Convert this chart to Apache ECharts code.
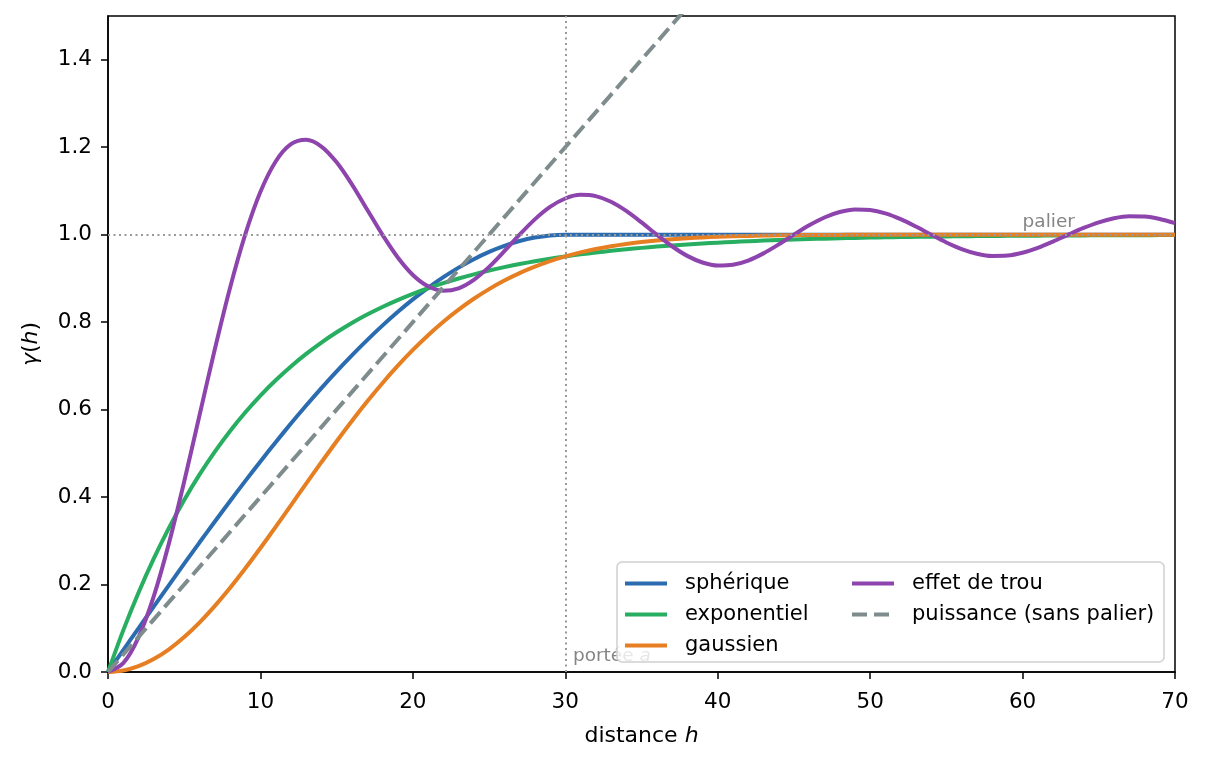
<!DOCTYPE html>
<html>
<head>
<meta charset="utf-8">
<script src="https://cdn.jsdelivr.net/npm/echarts@6/dist/echarts.min.js"></script>
<style>
  html, body { margin: 0; padding: 0; background: #fff; }
  #chart { width: 1206px; height: 764px; }
</style>
</head>
<body>
<div id="chart"></div>
<script>
// distances h (0..70)
const hVals = [0, 1, 2, 3, 4, 5, 6, 7, 8, 9, 10, 11, 12, 13, 14, 15, 16, 17, 18, 19,
  20, 21, 22, 23, 24, 25, 26, 27, 28, 29, 30, 31, 32, 33, 34, 35, 36, 37, 38, 39,
  40, 41, 42, 43, 44, 45, 46, 47, 48, 49, 50, 51, 52, 53, 54, 55, 56, 57, 58, 59,
  60, 61, 62, 63, 64, 65, 66, 67, 68, 69, 70]

const spherique = [0, 0.0500, 0.0999, 0.1495, 0.1988, 0.2477, 0.2960, 0.3436, 0.3905, 0.4365,
  0.4815, 0.5254, 0.5680, 0.6093, 0.6492, 0.6875, 0.7241, 0.7590, 0.7920, 0.8230,
  0.8519, 0.8785, 0.9028, 0.9247, 0.9440, 0.9606, 0.9745, 0.9855, 0.9935, 0.9983,
  1, 1, 1, 1, 1, 1, 1, 1, 1, 1, 1, 1, 1, 1, 1, 1, 1, 1, 1, 1,
  1, 1, 1, 1, 1, 1, 1, 1, 1, 1, 1, 1, 1, 1, 1, 1, 1, 1, 1, 1, 1]

const exponentiel = [0, 0.0952, 0.1813, 0.2592, 0.3297, 0.3935, 0.4512, 0.5034, 0.5507, 0.5934,
  0.6321, 0.6671, 0.6988, 0.7275, 0.7534, 0.7769, 0.7981, 0.8173, 0.8347, 0.8504,
  0.8647, 0.8775, 0.8892, 0.8997, 0.9093, 0.9179, 0.9257, 0.9328, 0.9392, 0.9450,
  0.9502, 0.9550, 0.9592, 0.9631, 0.9666, 0.9698, 0.9727, 0.9753, 0.9776, 0.9798,
  0.9817, 0.9834, 0.9850, 0.9864, 0.9877, 0.9889, 0.9899, 0.9909, 0.9918, 0.9926,
  0.9933, 0.9939, 0.9945, 0.9950, 0.9955, 0.9959, 0.9963, 0.9967, 0.9970, 0.9973,
  0.9975, 0.9978, 0.9980, 0.9982, 0.9983, 0.9985, 0.9986, 0.9988, 0.9989, 0.9990, 0.9991]

const gaussien = [0, 0.0033, 0.0132, 0.0296, 0.0519, 0.0800, 0.1131, 0.1507, 0.1921, 0.2366,
  0.2835, 0.3319, 0.3812, 0.4307, 0.4797, 0.5276, 0.5740, 0.6184, 0.6604, 0.6998,
  0.7364, 0.7701, 0.8008, 0.8285, 0.8534, 0.8755, 0.8950, 0.9120, 0.9267, 0.9394,
  0.9502, 0.9594, 0.9671, 0.9735, 0.9788, 0.9831, 0.9867, 0.9896, 0.9919, 0.9937,
  0.9952, 0.9963, 0.9972, 0.9979, 0.9984, 0.9988, 0.9991, 0.9994, 0.9995, 0.9997,
  0.9998, 0.9998, 0.9999, 0.9999, 0.9999, 1, 1, 1, 1, 1,
  1, 1, 1, 1, 1, 1, 1, 1, 1, 1, 1]

const effetTrou = [0, 0.0202, 0.0793, 0.1730, 0.2947, 0.4357, 0.5865, 0.7369, 0.8775, 1.0,
  1.0980, 1.1674, 1.2068, 1.2170, 1.2015, 1.1654, 1.1151, 1.0576, 1.0, 0.9484,
  0.9079, 0.8819, 0.8718, 0.8773, 0.8966, 0.9263, 0.9623, 1.0, 1.0350, 1.0635,
  1.0827, 1.0910, 1.0882, 1.0752, 1.0542, 1.0280, 1.0, 0.9735, 0.9515, 0.9364,
  0.9295, 0.9312, 0.9409, 0.9572, 0.9777, 1.0, 1.0213, 1.0392, 1.0517, 1.0576,
  1.0564, 1.0486, 1.0354, 1.0185, 1.0, 0.9822, 0.9671, 0.9565, 0.9514, 0.9522,
  0.9587, 0.9698, 0.9842, 1.0, 1.0153, 1.0283, 1.0376, 1.0421, 1.0415, 1.0360, 1.0263]

// modèle puissance (droite), coupé par l'axe à 1.5
const hPuissance = [0, 10, 20, 30, 40]
const puissance = [0, 0.4, 0.8, 1.2, 1.6]

const palier = 1
const portee = 30
const xTicks = [0, 10, 20, 30, 40, 50, 60, 70]
const yTicks = [0, 0.2, 0.4, 0.6, 0.8, 1.0, 1.2, 1.4]

const colors = {
  sph: '#2b6cb0',
  exp: '#27ae60',
  gau: '#e67e22',
  trou: '#8e44ad',
  pui: '#7f8c8d'
}
const font = 'DejaVu Sans'

// icônes de légende : trait plein / tirets
const iconSolid = 'path://M0,0H42V4H0Z'
const iconDash = 'path://M0,0H15V4H0Z M22,0H37V4H22Z M42,0H42V4H42Z'

function pairs(xs, ys) {
  return ys.map((y, i) => [xs[i], y])
}

function curve(name, xs, ys, color, type) {
  return {
    name: name,
    type: 'line',
    data: pairs(xs, ys),
    showSymbol: false,
    symbol: 'none',
    smooth: 0.3,
    clip: true,
    lineStyle: { color: color, width: 4, type: type || 'solid', cap: 'butt' },
    itemStyle: { color: color },
    emphasis: { disabled: true },
    z: 2
  }
}

function legendBlock(left, items) {
  return {
    orient: 'vertical',
    left: left, top: 573, padding: 0,
    itemWidth: 42, itemHeight: 4, itemGap: 10,
    z: 4,
    data: items,
    textStyle: { fontSize: 21, color: '#000', fontFamily: font, padding: [0, 0, 0, 13] },
    selectedMode: false
  }
}

const chart = echarts.init(document.getElementById('chart'))

const option = {
  animation: false,
  backgroundColor: '#fff',
  textStyle: { fontFamily: font },
  grid: {
    left: 108, right: 31, top: 16, bottom: 92,
    show: true, borderColor: '#000', borderWidth: 1.5, backgroundColor: 'transparent'
  },
  xAxis: {
    type: 'value',
    min: 0, max: 70, interval: 10,
    name: '{n|distance }{i|h}',
    nameLocation: 'middle',
    nameGap: 53,
    nameTextStyle: {
      rich: {
        n: { fontSize: 22, fontFamily: font, color: '#000' },
        i: { fontSize: 22, fontFamily: font, fontStyle: 'italic', color: '#000' }
      }
    },
    axisLine: { show: true, lineStyle: { color: '#000', width: 1.5 } },
    axisTick: { show: true, length: 7, lineStyle: { color: '#000', width: 1.5 }, customValues: xTicks },
    axisLabel: { fontSize: 21.5, color: '#000', margin: 19, customValues: xTicks },
    splitLine: { show: false }
  },
  yAxis: {
    type: 'value',
    min: 0, max: 1.5, interval: 0.2,
    name: '{i|γ}{n|(}{i|h}{n|)}',
    nameLocation: 'middle',
    nameGap: 66,
    nameRotate: 90,
    nameTextStyle: {
      rich: {
        n: { fontSize: 22, fontFamily: font, color: '#000' },
        i: { fontSize: 22, fontFamily: font, fontStyle: 'italic', color: '#000' }
      }
    },
    axisLine: { show: true, lineStyle: { color: '#000', width: 1.5 } },
    axisTick: { show: true, length: 7, lineStyle: { color: '#000', width: 1.5 }, customValues: yTicks },
    axisLabel: {
      fontSize: 21.5, color: '#000', margin: 16, customValues: yTicks,
      formatter: v => v.toFixed(1)
    },
    splitLine: { show: false }
  },
  graphic: [{
    type: 'rect',
    z: 3,
    shape: { x: 617, y: 562, width: 547, height: 100, r: 5 },
    style: { fill: 'rgba(255,255,255,0.8)', stroke: '#d0d0d0', lineWidth: 1.5 }
  }],
  legend: [
    legendBlock(625, [
      { name: 'sphérique', icon: iconSolid },
      { name: 'exponentiel', icon: iconSolid },
      { name: 'gaussien', icon: iconSolid }
    ]),
    legendBlock(852, [
      { name: 'effet de trou', icon: iconSolid },
      { name: 'puissance (sans palier)', icon: iconDash }
    ])
  ],
  series: [
    curve('sphérique', hVals, spherique, colors.sph),
    curve('exponentiel', hVals, exponentiel, colors.exp),
    curve('gaussien', hVals, gaussien, colors.gau),
    curve('effet de trou', hVals, effetTrou, colors.trou),
    Object.assign(curve('puissance (sans palier)', hPuissance, puissance, colors.pui, [15, 6.5]), { smooth: false }),
    {
      name: 'ref',
      type: 'line',
      data: [],
      z: 3,
      markLine: {
        silent: true,
        symbol: 'none',
        animation: false,
        label: { show: false },
        lineStyle: { color: '#999', width: 2, type: [2, 3.5] },
        data: [{ yAxis: palier }, { xAxis: portee }]
      }
    },
    {
      name: 'annotations',
      type: 'scatter',
      symbolSize: 0,
      silent: true,
      z: 2,
      data: [
        { value: [60, 1.006], label: { formatter: '{t|palier}' } },
        { value: [30.5, 0.015], label: { formatter: '{t|portée }{i|a}' } }
      ],
      label: {
        show: true,
        position: [0, 0],
        align: 'left',
        verticalAlign: 'bottom',
        rich: {
          t: { fontSize: 18.5, color: '#666', fontFamily: font },
          i: { fontSize: 18.5, color: '#666', fontFamily: font, fontStyle: 'italic' }
        }
      }
    }
  ]
}

chart.setOption(option)
window.addEventListener('resize', () => {
  chart.resize()
})
</script>
</body>
</html>
